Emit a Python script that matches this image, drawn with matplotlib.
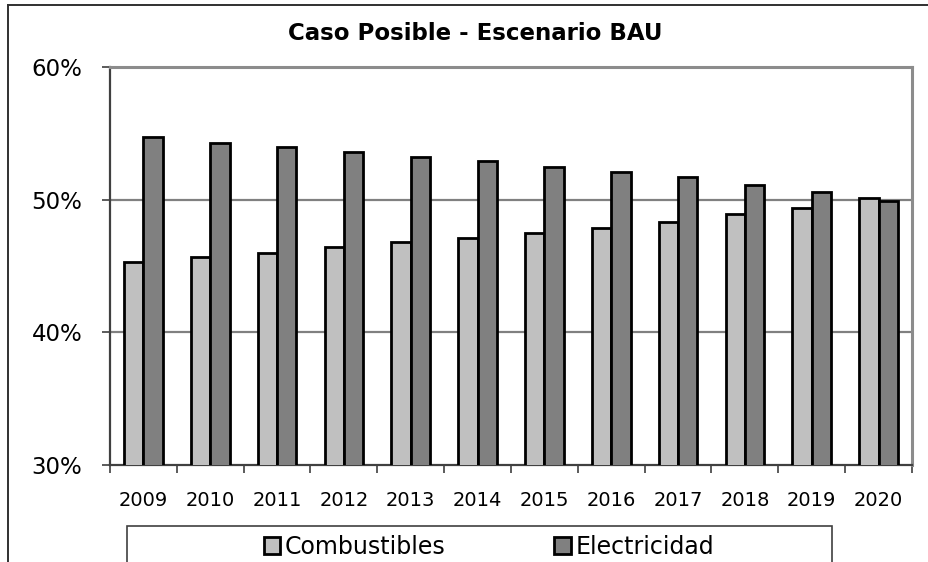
import matplotlib
matplotlib.use("Agg")
import matplotlib.pyplot as plt
from matplotlib.patches import Rectangle, Patch
from matplotlib.lines import Line2D
from matplotlib.ticker import FuncFormatter, FixedLocator

years = ["2009", "2010", "2011", "2012", "2013", "2014", "2015", "2016", "2017", "2018", "2019", "2020"]
combustibles = [45.3, 45.7, 46.0, 46.4, 46.8, 47.1, 47.5, 47.9, 48.3, 48.9, 49.4, 50.1]
electricidad = [54.7, 54.3, 54.0, 53.6, 53.2, 52.9, 52.5, 52.1, 51.7, 51.1, 50.6, 49.9]
series_names = ["Combustibles", "Electricidad"]
title = "Caso Posible - Escenario BAU"
yticks = [30, 40, 50, 60]

W, H = 929, 562
fig = plt.figure(figsize=(W / 100, H / 100), dpi=100)
fig.patch.set_facecolor("white")

def fx(px):
    return px / W

def fy(py):
    return 1 - py / H

ax = fig.add_axes([fx(110), fy(465), fx(912) - fx(110), fy(67) - fy(465)])

x = list(range(len(years)))
bw = 0.29
ax.bar([i - bw / 2 for i in x], combustibles, width=bw, bottom=0, color="#C0C0C0",
       edgecolor="black", linewidth=2.0, zorder=3)
ax.bar([i + bw / 2 for i in x], electricidad, width=bw, bottom=0, color="#808080",
       edgecolor="black", linewidth=2.0, zorder=3)

ax.set_ylim(30, 60)
ax.set_xlim(-0.5, len(years) - 0.5)
ax.set_yticks(yticks)
ax.yaxis.set_major_formatter(FuncFormatter(lambda v, p: f"{int(v)}%"))
ax.tick_params(axis="y", length=6, width=1.2, color="#404040", pad=14, labelsize=16.5)

ax.set_xticks(x)
ax.set_xticklabels(years)
ax.tick_params(axis="x", which="major", length=0, pad=19, labelsize=14)
ax.xaxis.set_minor_locator(FixedLocator([i - 0.5 for i in range(len(years) + 1)]))
ax.tick_params(axis="x", which="minor", length=6, width=1.2, color="#404040")

for yv in [40, 50]:
    ax.axhline(yv, color="#808080", linewidth=1.6, zorder=1)

ax.spines["left"].set_color("#404040")
ax.spines["left"].set_linewidth(1.6)
ax.spines["bottom"].set_color("#404040")
ax.spines["bottom"].set_linewidth(1.6)
ax.spines["top"].set_color("#8C8C8C")
ax.spines["top"].set_linewidth(2.2)
ax.spines["right"].set_color("#8C8C8C")
ax.spines["right"].set_linewidth(2.2)

fig.text(fx(475), fy(33), title, ha="center", va="center", fontsize=16.5,
         fontweight="bold", color="black")

# outer chart frame
fig.add_artist(Line2D([fx(8), fx(8)], [fy(5), 0], color="#303030", linewidth=1.4))
fig.add_artist(Line2D([fx(8), 1], [fy(5), fy(5)], color="#303030", linewidth=1.4))

# legend box
fig.add_artist(Rectangle((fx(127), fy(600)), fx(832) - fx(127), fy(526) - fy(600),
                         transform=fig.transFigure, facecolor="white",
                         edgecolor="#404040", linewidth=1.2))
handles = [Patch(facecolor="#C0C0C0", edgecolor="black", linewidth=2.0),
           Patch(facecolor="#808080", edgecolor="black", linewidth=2.0)]
fig.legend(handles, series_names, loc="center", bbox_to_anchor=(fx(489), fy(547)),
           ncol=2, frameon=False, fontsize=17, handlelength=0.7, handleheight=0.7,
           handletextpad=0.2, columnspacing=4.6)

fig.savefig("out.png", dpi=100, facecolor="white")
